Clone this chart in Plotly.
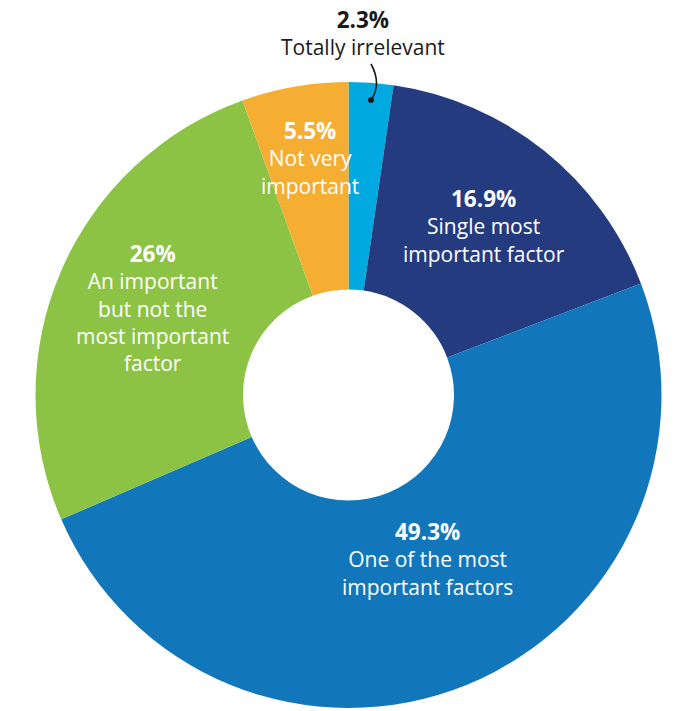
import plotly.graph_objects as go

# Survey shares, clockwise from 12 o'clock
categories = [
    "Totally irrelevant",
    "Single most<br>important factor",
    "One of the most<br>important factors",
    "An important<br>but not the<br>most important<br>factor",
    "Not very<br>important",
]
shares = [2.3, 16.9, 49.3, 26, 5.5]
colors = ["#00A9E0", "#253B80", "#1277BA", "#8DC344", "#F6AE32"]

W, H = 679, 711
FONT = "Open Sans"

fig = go.Figure(
    go.Pie(
        labels=[c.replace("<br>", " ") for c in categories],
        values=shares,
        hole=0.337,
        sort=False,
        direction="clockwise",
        rotation=0,
        marker=dict(colors=colors, line=dict(width=0)),
        textinfo="none",
        hoverinfo="label+percent",
        domain=dict(x=[35.5 / W, 661.5 / W], y=[3 / H, 629 / H]),
        showlegend=False,
    )
)

# Label block placement: centre x / centre y (pixels) and text colour
label_x = [363, 483.5, 427.5, 152.5, 310]
label_y = [32.5, 225, 558, 307, 157]
label_color = ["#1a1a1a", "white", "white", "white", "white"]

for cat, val, px, py, col in zip(categories, shares, label_x, label_y, label_color):
    fig.add_annotation(
        x=px / W,
        y=1 - py / H,
        xref="paper",
        yref="paper",
        xanchor="center",
        yanchor="middle",
        showarrow=False,
        align="center",
        text=f"<span style='font-size:22.5px'><b>{val:g}%</b></span><br>{cat}",
        font=dict(family=FONT, size=21, color=col),
    )

# Curved leader from the outside label down to the thin slice
fig.add_shape(
    type="path",
    xref="paper",
    yref="paper",
    path=f"M {371/W},{1-64/H} Q {382/W},{1-84/H} {371/W},{1-100/H}",
    line=dict(color="#1a1a1a", width=1.6),
)
fig.add_shape(
    type="circle",
    xref="paper",
    yref="paper",
    x0=368 / W,
    x1=374 / W,
    y0=1 - 103 / H,
    y1=1 - 97 / H,
    fillcolor="#1a1a1a",
    line=dict(width=0),
)

fig.update_layout(
    width=W,
    height=H,
    margin=dict(l=0, r=0, t=0, b=0),
    paper_bgcolor="white",
    plot_bgcolor="white",
)

fig.write_html("out.html")
